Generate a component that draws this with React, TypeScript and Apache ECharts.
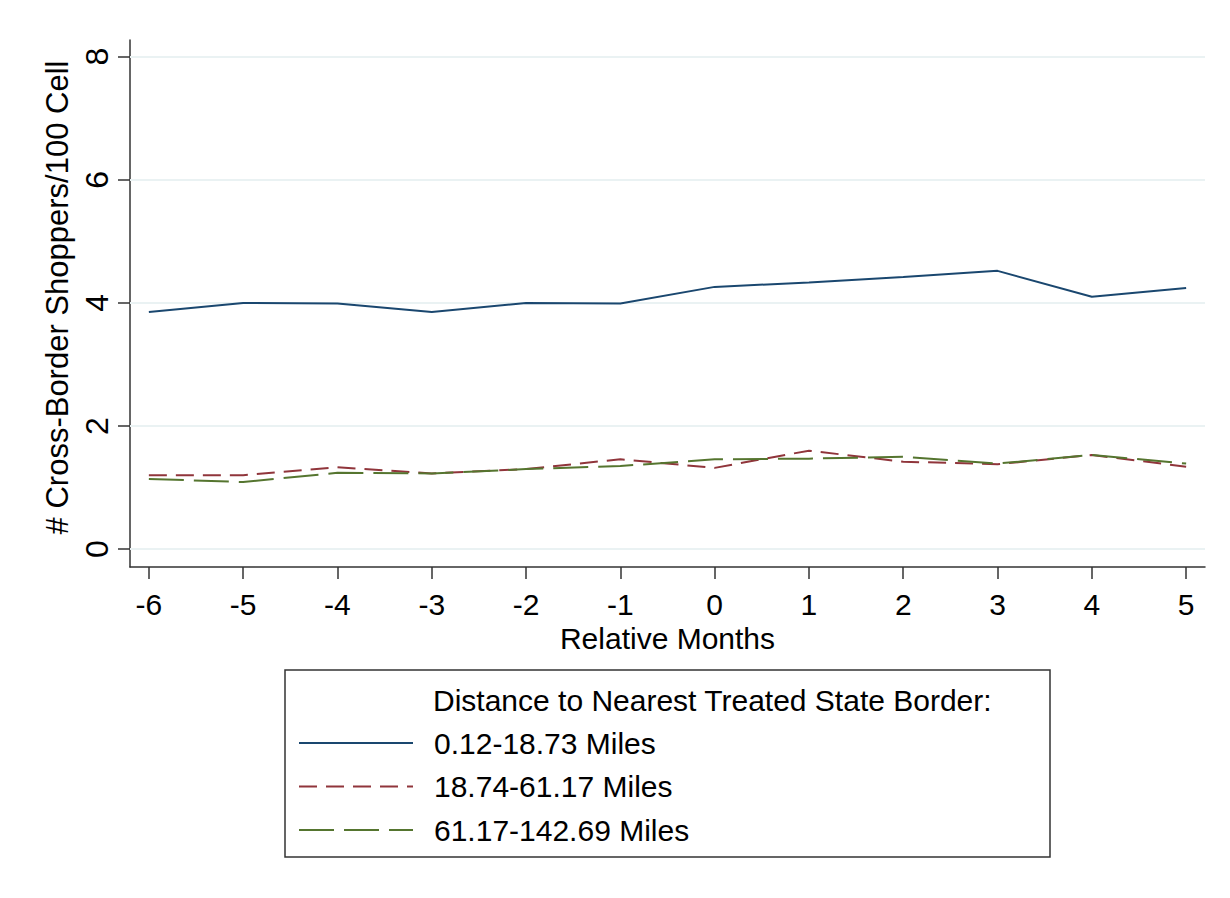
import React, { useEffect, useRef } from "react";
import * as echarts from "echarts";

const months = [-6, -5, -4, -3, -2, -1, 0, 1, 2, 3, 4, 5];
const yTicks = [0, 2, 4, 6, 8];
const legendTitle = "Distance to Nearest Treated State Border:";
const seriesNames = ["0.12-18.73 Miles", "18.74-61.17 Miles", "61.17-142.69 Miles"];
const nearValues = [3.85, 4.0, 3.99, 3.85, 4.0, 3.99, 4.26, 4.33, 4.42, 4.52, 4.1, 4.24];
const midValues = [1.2, 1.2, 1.33, 1.23, 1.3, 1.46, 1.32, 1.6, 1.42, 1.38, 1.53, 1.34];
const farValues = [1.14, 1.09, 1.24, 1.23, 1.3, 1.35, 1.46, 1.47, 1.5, 1.39, 1.53, 1.39];

const FONT = "'Liberation Sans', Arial, sans-serif";

export default function App() {
  const ref = useRef<HTMLDivElement>(null);
  useEffect(() => {
    document.body.style.margin = "0";
    const chart = echarts.init(ref.current!, null, { renderer: "svg" });
    const pairs = (vals: number[]) => months.map((m, i) => [m, vals[i]]);
    const colors = ["#1a476f", "#90353b", "#55752f"];
    const dashes: any[] = ["solid", [18, 9], [35, 10]];
    const valueSets = [nearValues, midValues, farValues];
    chart.setOption({
      animation: false,
      backgroundColor: "#ffffff",
      textStyle: { fontFamily: FONT },
      grid: { left: 130, right: 25, top: 40, bottom: 331, containLabel: false },
      xAxis: {
        type: "value",
        min: -6.2,
        max: 5.2,
        name: "Relative Months",
        nameLocation: "middle",
        nameGap: 55,
        nameTextStyle: { fontSize: 30, color: "#000", fontFamily: FONT },
        axisLine: { show: true, onZero: false, lineStyle: { color: "#333", width: 1.5 } },
        axisTick: { show: true, length: 12, customValues: months, lineStyle: { color: "#333", width: 1.5 } },
        axisLabel: { customValues: months, fontSize: 30, color: "#000", margin: 22, fontFamily: FONT },
        splitLine: { show: false },
      },
      yAxis: {
        type: "value",
        min: -0.29,
        max: 8.27,
        name: "# Cross-Border Shoppers/100 Cell",
        nameLocation: "middle",
        nameGap: 52,
        nameTextStyle: { fontSize: 31, color: "#000", fontFamily: FONT, padding: [0, 0, 0, 12] },
        axisLine: { show: true, onZero: false, lineStyle: { color: "#333", width: 1.5 } },
        axisTick: { show: true, length: 12, customValues: yTicks, lineStyle: { color: "#333", width: 1.5 } },
        axisLabel: { customValues: yTicks, rotate: 90, fontSize: 32, color: "#000", margin: 17, fontFamily: FONT },
        splitLine: { show: false },
      },
      legend: {
        orient: "vertical",
        left: 298,
        top: 728,
        padding: 0,
        itemWidth: 114,
        itemHeight: 30,
        itemGap: 13.5,
        data: seriesNames,
        itemStyle: { opacity: 0 },
        textStyle: { fontSize: 30, color: "#000", lineHeight: 30, padding: [0, 0, 0, 16], fontFamily: FONT },
      },
      graphic: [
        {
          type: "rect",
          shape: { x: 285, y: 670, width: 765, height: 187 },
          style: { fill: "none", stroke: "#333", lineWidth: 1.5 },
          silent: true,
        },
        {
          type: "text",
          x: 433,
          y: 700,
          style: { text: legendTitle, fontSize: 30, fill: "#000", verticalAlign: "middle", fontFamily: FONT },
          silent: true,
        },
      ],
      series: [
        {
          name: "grid",
          type: "line",
          data: [],
          z: 1,
          silent: true,
          markLine: {
            silent: true,
            z: 1,
            zlevel: 0,
            symbol: ["none", "none"],
            label: { show: false },
            lineStyle: { color: "#eaf2f3", type: "solid", width: 2 },
            data: yTicks.map((v) => ({ yAxis: v })),
          },
        },
        ...seriesNames.map((name, i) => ({
          name,
          type: "line",
          z: 3,
          data: pairs(valueSets[i]),
          symbol: "none",
          showSymbol: false,
          lineStyle: { color: colors[i], width: 2, type: dashes[i] },
          itemStyle: { color: colors[i] },
        })),
      ],
    });
    return () => chart.dispose();
  }, []);
  return <div ref={ref} style={{ width: 1230, height: 898 }} />;
}
